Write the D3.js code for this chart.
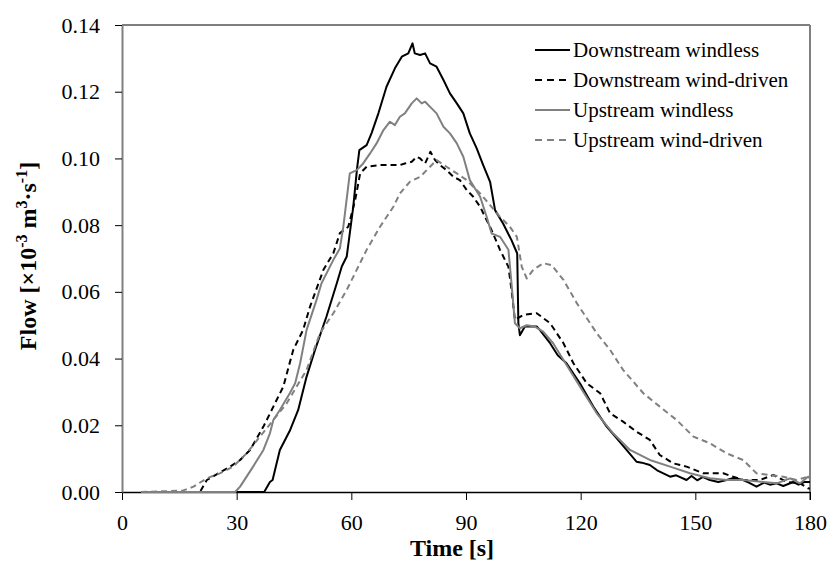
<!DOCTYPE html>
<meta charset="utf-8">
<style>
  body { margin: 0; background: #fff; }
  svg text { font-family: "Liberation Serif", "Times New Roman", serif !important; }
</style>
<script src="https://d3js.org/d3.v7.min.js"></script>
<div id="my_dataviz"></div>
<script>

// data: time [s] and flow [x10^-3 m3/s]
var dwTime = [5,37.2,38.7,39.4,41.3,44,46.1,48.3,50.5,53.5,56.2,57.5,58.8,60.5,61.5,62.1,64,65.3,67.1,69.2,71.4,73.2,74.9,76,76.6,78,79.3,80.6,82.3,84.1,85.8,87.6,89.3,91,92.8,94.5,96.3,97.6,99.7,101.9,103.4,103.7,104.1,105.4,108.5,109.3,112,114,116.3,119.8,123.3,126.8,129.5,132,134.6,136,138.1,140,143.4,145,147.7,149,150.5,152,153.8,156,158.2,160,162.5,164,166,168,169.5,171.3,173,175.6,177,178.5,180];
var dwFlow = [0,0,0.003,0.0036,0.0126,0.0186,0.0246,0.0346,0.0426,0.0526,0.0626,0.0676,0.0706,0.0855,0.097,0.1025,0.104,0.1076,0.1136,0.1215,0.127,0.1305,0.1315,0.1345,0.1315,0.131,0.1315,0.1285,0.1275,0.1235,0.1195,0.1165,0.1135,0.1075,0.103,0.098,0.093,0.0845,0.0805,0.0755,0.0715,0.0506,0.047,0.0496,0.0496,0.0486,0.0446,0.041,0.0386,0.0326,0.0256,0.0196,0.016,0.0126,0.0091,0.0088,0.0081,0.0065,0.0046,0.005,0.0036,0.0048,0.0035,0.0045,0.0036,0.003,0.0036,0.0042,0.0036,0.0028,0.0016,0.0028,0.0022,0.0026,0.0018,0.003,0.0022,0.003,0.003];

var dwdTime = [5,20.4,22.2,25.2,28.3,30.9,33.5,37,39.6,42.2,44.8,47.4,49.2,52.7,55.3,57,59.2,61,62.3,64,67.5,72.7,74,75.8,77.1,78,79.3,80.7,81.9,83.2,84.9,86.7,88.4,90.2,91.9,93.7,95.4,96.3,98.9,101.1,101.9,102.8,105,108.5,112,115.5,118.1,121.6,125.1,127.7,131.1,134.6,138.1,140.7,144.2,147.7,152.1,157.3,162.5,166.9,170.4,173.9,177.4,179.5,180];
var dwdFlow = [0,0,0.0036,0.0056,0.0076,0.0096,0.0126,0.0196,0.0256,0.0316,0.0426,0.0486,0.0556,0.0666,0.0716,0.0776,0.0795,0.0875,0.0955,0.0975,0.098,0.098,0.0985,0.099,0.1005,0.1,0.0985,0.102,0.0995,0.098,0.0965,0.0945,0.0935,0.0905,0.0885,0.0855,0.0815,0.0795,0.0726,0.0675,0.0606,0.0516,0.0531,0.0536,0.0506,0.0446,0.0386,0.0326,0.0296,0.0236,0.0211,0.0181,0.0156,0.0111,0.0086,0.0076,0.0056,0.0056,0.0036,0.0036,0.0051,0.003,0.0026,0.0011,0.001];

var uwTime = [5,29.6,30.9,32.6,34.3,37,38.7,39.6,41.3,43.9,45.3,46.6,48.3,50.9,52.2,55.3,57,57.9,59.6,61.4,63.1,64.9,66.6,68.4,70.1,71.4,72.7,74,75.8,77.1,78.4,79.3,81,82.3,84.1,85.8,87.6,89.3,91,93.7,95.4,96.7,98.9,101.1,101.9,102.8,104.1,105.9,108,110.2,112.8,115.5,119.8,124.2,128.5,132.9,138.1,143.4,148.6,153.8,158.2,162.5,167.8,171.3,174.8,177.4,179.5,180];
var uwFlow = [0,0,0.0016,0.0046,0.0076,0.0126,0.0176,0.0216,0.0246,0.0296,0.0326,0.0386,0.0486,0.0576,0.0626,0.0696,0.073,0.0795,0.0955,0.0965,0.0985,0.1015,0.1045,0.1085,0.111,0.11,0.1125,0.1135,0.1165,0.118,0.1165,0.117,0.115,0.1135,0.1095,0.1075,0.1045,0.1005,0.0935,0.0885,0.0825,0.0775,0.0765,0.0726,0.0626,0.0506,0.0491,0.05,0.0496,0.0481,0.0446,0.0396,0.0316,0.0236,0.0176,0.0126,0.0096,0.0076,0.0056,0.0041,0.0036,0.0036,0.003,0.0026,0.0041,0.0026,0.0046,0.004];

var uwdTime = [5,15.9,18.7,22.2,25.6,29.1,32.6,36.1,39.6,43.1,45.7,48.3,51.8,55.3,58.8,60.5,64,67.5,71,72.7,75.3,78,80.6,82.3,84.9,87.6,90.2,91.9,93.7,96.3,98.9,101.5,103.3,104.6,105.9,107.6,110.2,112.4,115.5,119,124.2,127.7,131.1,136.4,140.7,145.1,149.5,153.8,158.2,162.5,166,169.5,173,176.5,179.5,180];
var uwdFlow = [0,0.0004,0.0016,0.0041,0.0056,0.0076,0.0116,0.0166,0.0216,0.0266,0.0316,0.0366,0.0476,0.0536,0.0606,0.0645,0.0726,0.0795,0.0855,0.0895,0.093,0.0945,0.0975,0.0995,0.0975,0.0955,0.0935,0.0915,0.0895,0.086,0.0825,0.0795,0.0765,0.0675,0.064,0.0666,0.0686,0.068,0.0636,0.0566,0.0476,0.0426,0.0366,0.0296,0.0256,0.0216,0.0166,0.0146,0.0116,0.0096,0.0056,0.0051,0.0046,0.0036,0.0046,0.004];

var seriesNames = ["Downstream windless", "Downstream wind-driven", "Upstream windless", "Upstream wind-driven"];
var xTicks = [0, 30, 60, 90, 120, 150, 180];
var yTicks = [0, 0.02, 0.04, 0.06, 0.08, 0.10, 0.12, 0.14];

var series = [
  {name: seriesNames[0], t: dwTime,  v: dwFlow,  color: "#000", dash: null},
  {name: seriesNames[1], t: dwdTime, v: dwdFlow, color: "#000", dash: "6,4"},
  {name: seriesNames[2], t: uwTime,  v: uwFlow,  color: "#808080", dash: null},
  {name: seriesNames[3], t: uwdTime, v: uwdFlow, color: "#808080", dash: "6,4"}
];

var serif = "'Liberation Serif', 'Times New Roman', serif";

// set the dimensions and margins of the graph
var margin = {top: 25, right: 20, bottom: 69, left: 122},
    width = 830 - margin.left - margin.right,
    height = 561 - margin.top - margin.bottom;

var svg = d3.select("#my_dataviz")
  .append("svg")
    .attr("width", 830)
    .attr("height", 561)
    .attr("font-family", serif)
  .append("g")
    .attr("transform", "translate(" + margin.left + "," + margin.top + ")");

var x = d3.scaleLinear().domain([0, 180]).range([0, width]);
var y = d3.scaleLinear().domain([0, 0.14]).range([height, 0]);

// frame: top and right
svg.append("line").attr("x1", 0).attr("x2", width).attr("y1", 0).attr("y2", 0)
  .attr("stroke", "#000").attr("stroke-width", 1);
svg.append("line").attr("x1", width).attr("x2", width).attr("y1", 0).attr("y2", height + 8)
  .attr("stroke", "#808080").attr("stroke-width", 2);

// X axis
var xAxis = svg.append("g")
  .attr("transform", "translate(0," + height + ")")
  .call(d3.axisBottom(x).tickValues(xTicks).tickSize(8).tickPadding(14).tickSizeOuter(0))
  .attr("font-family", serif).attr("font-size", 22);
xAxis.select(".domain").attr("stroke", "#000").attr("stroke-width", 1.5);
xAxis.selectAll("text").attr("fill", "#000");

// Y axis
var yAxis = svg.append("g")
  .call(d3.axisLeft(y).tickValues(yTicks).tickFormat(d3.format(".2f")).tickSize(7).tickPadding(15).tickSizeOuter(0))
  .attr("font-family", serif).attr("font-size", 22);
yAxis.select(".domain").attr("stroke", "#808080").attr("stroke-width", 2);
yAxis.selectAll("text").attr("fill", "#000");

// axis titles
svg.append("text")
  .attr("x", 452 - margin.left)
  .attr("y", 556 - margin.top)
  .style("text-anchor", "middle")
  .style("font-size", "24px")
  .style("font-weight", "bold")
  .text("Time [s]");

var yTitle = svg.append("text")
  .attr("transform", "translate(" + (36 - margin.left) + "," + (256 - margin.top) + ") rotate(-90)")
  .style("text-anchor", "middle")
  .style("font-size", "24px")
  .style("font-weight", "bold");
yTitle.append("tspan").text("Flow [×10");
yTitle.append("tspan").attr("dy", "-9").style("font-size", "16px").text("-3");
yTitle.append("tspan").attr("dy", "9").text(" m");
yTitle.append("tspan").attr("dy", "-9").style("font-size", "16px").text("3");
yTitle.append("tspan").attr("dy", "9").text("·s");
yTitle.append("tspan").attr("dy", "-9").style("font-size", "16px").text("-1");
yTitle.append("tspan").attr("dy", "9").text("]");

// lines
var line = d3.line()
  .x(function(d) { return x(d[0]) })
  .y(function(d) { return y(d[1]) });

series.forEach(function(s) {
  var pts = s.t.map(function(t, i) { return [t, s.v[i]]; });
  svg.append("path")
    .datum(pts)
    .attr("d", line)
    .attr("fill", "none")
    .attr("stroke", s.color)
    .attr("stroke-width", 2)
    .attr("stroke-dasharray", s.dash)
    .attr("stroke-linejoin", "round");
});

// legend
var legend = svg.append("g").attr("transform", "translate(" + (535 - margin.left) + "," + (50 - margin.top) + ")");
series.forEach(function(s, i) {
  var g = legend.append("g").attr("transform", "translate(0," + (i * 30) + ")");
  g.append("line")
    .attr("x1", 0).attr("x2", 35).attr("y1", 0).attr("y2", 0)
    .attr("stroke", s.color)
    .attr("stroke-width", 2)
    .attr("stroke-dasharray", s.dash ? "7,5" : null);
  g.append("text")
    .attr("x", 38)
    .attr("y", 0)
    .attr("dy", "0.35em")
    .style("font-size", "21px")
    .text(s.name);
});

</script>
